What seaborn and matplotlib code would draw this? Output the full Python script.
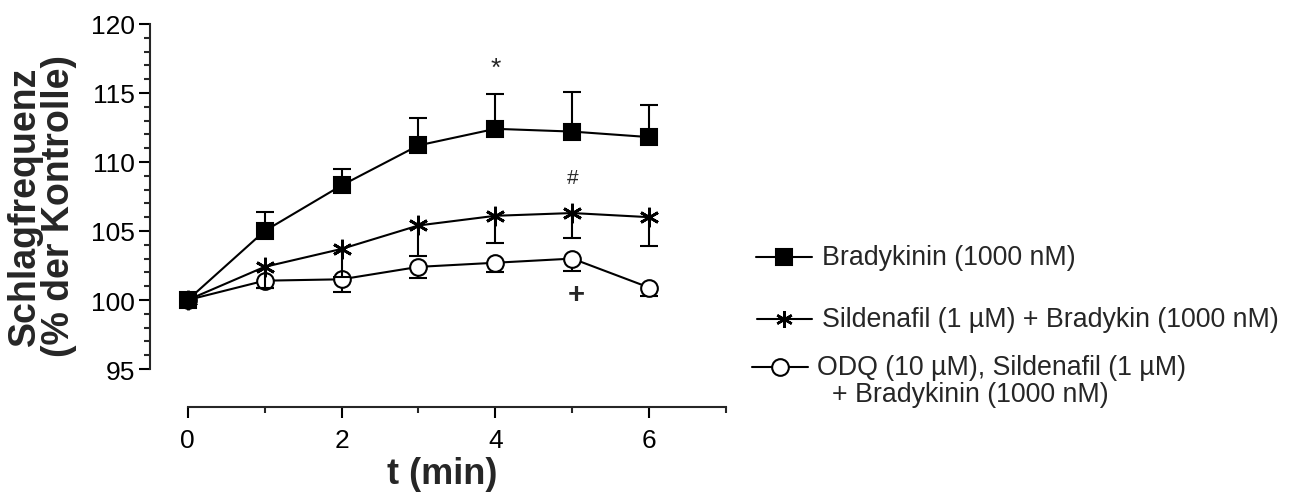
import numpy as np
import pandas as pd
import matplotlib
matplotlib.use("Agg")
import matplotlib.pyplot as plt
from matplotlib.lines import Line2D
from matplotlib.ticker import FixedLocator
import seaborn as sns

# ---------------- data ----------------
t_min = [0, 1, 2, 3, 4, 5, 6]

brady_mean = [100.0, 105.0, 108.3, 111.2, 112.4, 112.2, 111.8]
brady_sem = [0.0, 1.4, 1.2, 2.0, 2.5, 2.9, 2.3]          # drawn upward

sild_mean = [100.0, 102.4, 103.7, 105.4, 106.1, 106.3, 106.0]
sild_sem = [0.0, 1.5, 2.0, 2.2, 2.0, 1.8, 2.1]            # drawn downward

odq_mean = [100.0, 101.4, 101.5, 102.4, 102.7, 103.0, 100.9]
odq_sem = [0.0, 0.5, 0.9, 0.8, 0.7, 0.9, 0.6]             # drawn downward

series_labels = ["Bradykinin (1000 nM)",
                 "Sildenafil (1 µM) + Bradykin (1000 nM)",
                 "ODQ (10 µM), Sildenafil (1 µM)"]
series_label_cont = "+ Bradykinin (1000 nM)"

annot_text = ["*", "#", "+"]
annot_x = [4, 5, 5.05]
annot_y = [116.8, 108.9, 100.4]

x_ticks = [0, 2, 4, 6]
x_minor = [1, 3, 5, 7]
y_ticks = [95, 100, 105, 110, 115, 120]
y_minor = list(range(95, 121))

# ---------------- style ----------------
sns.set_style("ticks")
plt.rcParams['font.family'] = ['Liberation Sans', 'DejaVu Sans']
plt.rcParams['axes.linewidth'] = 1.5

W, H = 1301, 502
fig = plt.figure(figsize=(W / 100, H / 100), dpi=100)
ax = fig.add_axes([150 / W, 1 - 408 / H, 580 / W, 390 / H])

LW = 1.5
star = (6, 2, 0)

specs = [
    # (mean, err, side, marker, size, face)
    (odq_mean, odq_sem, "down", "o", 12, "white"),
    (sild_mean, sild_sem, "down", star, 14, "black"),
    (brady_mean, brady_sem, "up", "s", 11.5, "black"),
]

for z, (mean, err, side, mk, ms, face) in enumerate(specs):
    err = np.asarray(err)
    zeros = np.zeros_like(err)
    yerr = [err, zeros] if side == "down" else [zeros, err]
    eb = ax.errorbar(t_min, mean, yerr=yerr, fmt="none", ecolor="black",
                     elinewidth=LW, capsize=6.5, capthick=LW, zorder=3 + 2 * z,
                     clip_on=False)
    caps = eb[1]
    if len(caps) == 2:
        caps[1 if side == "down" else 0].set_visible(False)
    df = pd.DataFrame({"t": t_min, "v": mean})
    sns.lineplot(data=df, x="t", y="v", ax=ax, color="black", lw=LW,
                 marker=mk, markersize=ms, markerfacecolor=face,
                 markeredgecolor="black",
                 markeredgewidth=(2.0 if mk == star else LW),
                 errorbar=None, zorder=4 + 2 * z, clip_on=False)

for txt, xx, yy in zip(annot_text, annot_x, annot_y):
    if txt == "+":
        ax.text(xx, yy, txt, ha="center", va="center", fontsize=21,
                fontweight="bold")
    elif txt == "*":
        ax.text(xx, yy, txt, ha="center", va="center", fontsize=19)
    else:
        ax.text(xx, yy, txt, ha="center", va="center", fontsize=15)

# axes
ax.set_xlim(-0.49, 7.05)
ax.set_ylim(92.25, 120.5)
ax.xaxis.set_major_locator(FixedLocator(x_ticks))
ax.yaxis.set_major_locator(FixedLocator(y_ticks))
ax.xaxis.set_minor_locator(FixedLocator(x_minor))
ax.yaxis.set_minor_locator(FixedLocator(y_minor))
for s in ["top", "right"]:
    ax.spines[s].set_visible(False)
ax.spines["left"].set_bounds(95, 120)
ax.spines["bottom"].set_bounds(0, 7)
ax.tick_params(axis="both", which="major", length=8, width=LW,
               labelsize=19, color="black", labelcolor="black")
ax.tick_params(axis="both", which="minor", length=4.5, width=LW)
ax.tick_params(axis="y", which="major", pad=3)
ax.tick_params(axis="x", which="major", pad=7)
ax.set_xlabel("")
ax.set_ylabel("")

fig.text(442 / W, 1 - 475 / H, "t (min)", ha="center", va="center",
         fontsize=26, fontweight="bold")
fig.text(42 / W, 1 - 206 / H, "Schlagfrequenz\n(% der Kontrolle)",
         ha="center", va="center", rotation=90, fontsize=27,
         fontweight="bold", linespacing=0.92)

# legend (manual)
def fx(px):
    return px / W


def fy(py):
    return 1 - py / H


leg_rows = [
    (756, 812, 258, "s", 11, "black", 822, LW),
    (757, 812, 320, star, 12, "black", 822, 1.8),
    (752, 808, 368, "o", 12, "white", 817, LW),
]
for (x0, x1, yy, mk, ms, face, tx, mew), lab in zip(leg_rows, series_labels):
    xm = (x0 + x1) / 2
    fig.add_artist(Line2D([fx(x0), fx(xm), fx(x1)], [fy(yy)] * 3,
                          transform=fig.transFigure, color="black", lw=LW,
                          marker=mk, markevery=[1], markersize=ms,
                          markerfacecolor=face, markeredgecolor="black",
                          markeredgewidth=mew))
    fig.text(fx(tx), fy(yy), lab, ha="left", va="center", fontsize=19.3)
fig.text(fx(832), fy(395), series_label_cont, ha="left", va="center",
         fontsize=19.3)

fig.savefig("out.png", dpi=100)
